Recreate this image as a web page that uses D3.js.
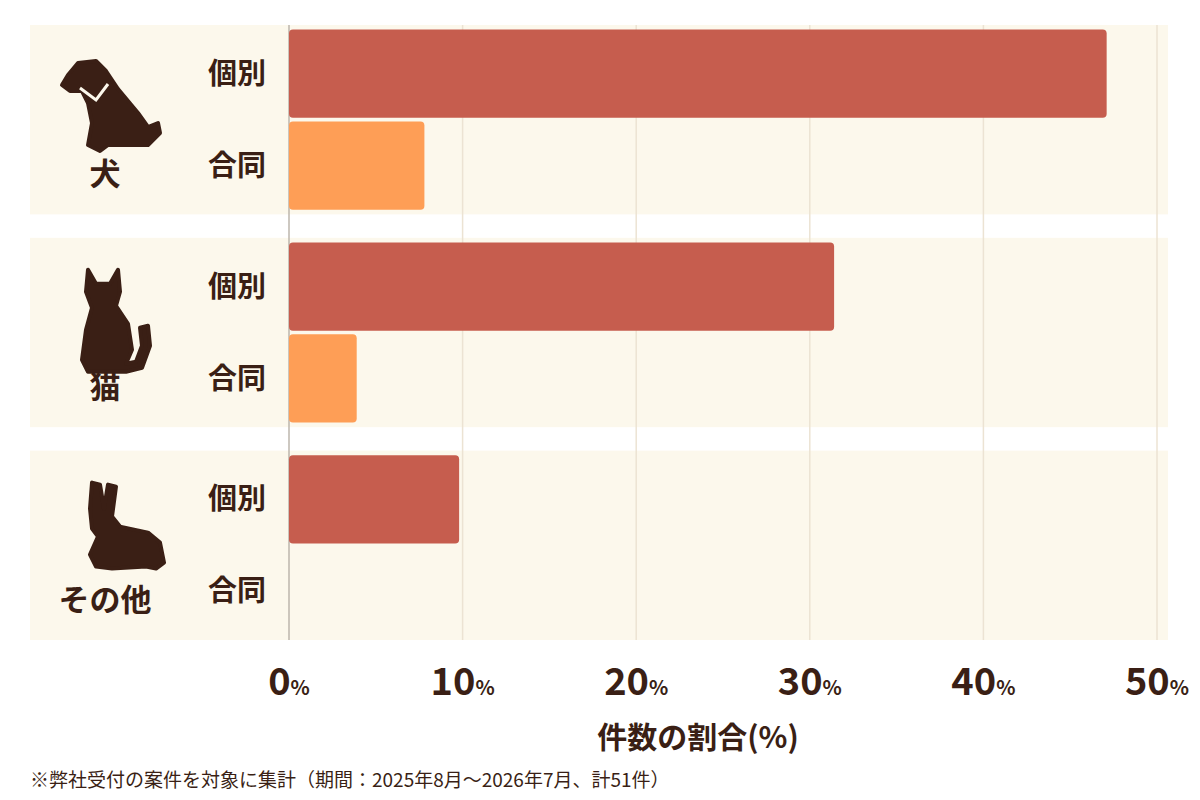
<!DOCTYPE html>
<html><head><meta charset="utf-8">
<script src="https://cdn.jsdelivr.net/npm/d3@7"></script>
<style>body{margin:0;background:#fff}text{font-family:"Noto Sans CJK JP",sans-serif;fill:#3a1f15}</style>
</head><body><div id="svg-container"></div>
<script>
// data
const animals = ["犬", "猫", "その他"];
const types = ["個別", "合同"];
const kobetsu = [47.1, 31.4, 9.8];
const godo = [7.8, 3.9, 0];
const ticks = [0, 10, 20, 30, 40, 50];

const width = 1200, height = 800;
const svg = d3.select("#svg-container").append("svg").attr("width", width).attr("height", height);
const ink = "#3a1f15";

const xScale = d3.scaleLinear().domain([0, 50]).range([289, 1157]);
const yGroup = d3.scaleBand().domain(animals).range([25, 640]).paddingInner(0.11);
const yType = d3.scaleBand().domain(types).range([0, yGroup.bandwidth()]).paddingInner(0.04).paddingOuter(0.05);
const colors = { "個別": "#c65d4e", "合同": "#fe9e56" };

// panels
svg.selectAll(".panel").data(animals).enter().append("rect")
  .attr("x", 30).attr("width", 1138)
  .attr("y", (d) => yGroup(d)).attr("height", yGroup.bandwidth())
  .attr("fill", "#fcf8ec");

// grid
svg.selectAll(".grid").data(ticks.slice(1)).enter().append("line")
  .attr("x1", (d) => xScale(d)).attr("x2", (d) => xScale(d))
  .attr("y1", 25).attr("y2", 640).attr("stroke", "#ece3d3").attr("stroke-width", 1.5);
svg.append("line").attr("x1", 289).attr("x2", 289).attr("y1", 25).attr("y2", 640)
  .attr("stroke", "#bdb6ad").attr("stroke-width", 1.5);

// bars
const rows = [];
animals.forEach((a, i) => {
  rows.push({ a, t: "個別", v: kobetsu[i] });
  rows.push({ a, t: "合同", v: godo[i] });
});
svg.selectAll(".bar").data(rows.filter((d) => d.v > 0)).enter().append("rect")
  .attr("x", xScale(0))
  .attr("y", (d) => yGroup(d.a) + yType(d.t))
  .attr("width", (d) => xScale(d.v) - xScale(0))
  .attr("height", yType.bandwidth())
  .attr("rx", 4).attr("fill", (d) => colors[d.t]);

// type labels
svg.selectAll(".tlabel").data(rows).enter().append("text")
  .attr("x", 237).attr("y", (d) => yGroup(d.a) + yType(d.t) + yType.bandwidth() / 2)
  .attr("dy", "0.35em").attr("text-anchor", "middle")
  .attr("font-size", 29).attr("font-weight", 700).text((d) => d.t);

// animal labels
svg.selectAll(".alabel").data(animals).enter().append("text")
  .attr("x", 105).attr("y", (d) => yGroup(d) + 160)
  .attr("text-anchor", "middle").attr("font-size", 31).attr("font-weight", 700).text((d) => d);

// icons (rough silhouettes)
const icons = {
  "犬": "M20,22 L30,10 L48,8 L58,18 L70,36 L90,60 L100,74 L110,70 L112,80 L100,92 L60,92 L52,98 L40,92 L44,70 L40,50 L34,38 L22,38 L14,32 Z",
  "猫": "M36,4 L44,18 L58,18 L66,4 L68,26 L64,40 L76,58 L80,84 L74,98 L84,96 L90,80 L88,62 L96,60 L98,80 L90,102 L74,106 L36,106 L30,94 L34,64 L40,42 L34,26 Z",
  "その他": "M40,4 L48,6 L52,30 L56,6 L64,8 L60,38 L68,48 L96,54 L108,64 L112,84 L104,90 L94,88 L60,90 L44,88 L38,76 L46,58 L40,50 L38,30 Z"
};
svg.selectAll(".icon").data(animals).enter().append("path")
  .attr("transform", (d) => `translate(${d === "犬" ? 48 : 52}, ${yGroup(d) + 28})`)
  .attr("d", (d) => icons[d]).attr("fill", ink).attr("stroke", ink)
  .attr("stroke-width", 4).attr("stroke-linejoin", "round");
// dog collar
svg.append("path").attr("d", "M80,88 L96,100 L108,84").attr("fill", "none")
  .attr("stroke", "#fcf8ec").attr("stroke-width", 3);

// x tick labels
const tl = svg.selectAll(".tick").data(ticks).enter().append("text")
  .attr("x", (d) => xScale(d)).attr("y", 695).attr("text-anchor", "middle")
  .attr("font-weight", 700).attr("font-family", "Inter, sans-serif");
tl.append("tspan").attr("font-size", 38).text((d) => d);
tl.append("tspan").attr("font-size", 20).text("%");

svg.append("text").attr("x", 698).attr("y", 748).attr("text-anchor", "middle")
  .attr("font-size", 30).attr("font-weight", 700).text("件数の割合(%)");
svg.append("text").attr("x", 30).attr("y", 787)
  .attr("font-size", 19).text("※弊社受付の案件を対象に集計（期間：2025年8月〜2026年7月、計51件）");
</script></body></html>
